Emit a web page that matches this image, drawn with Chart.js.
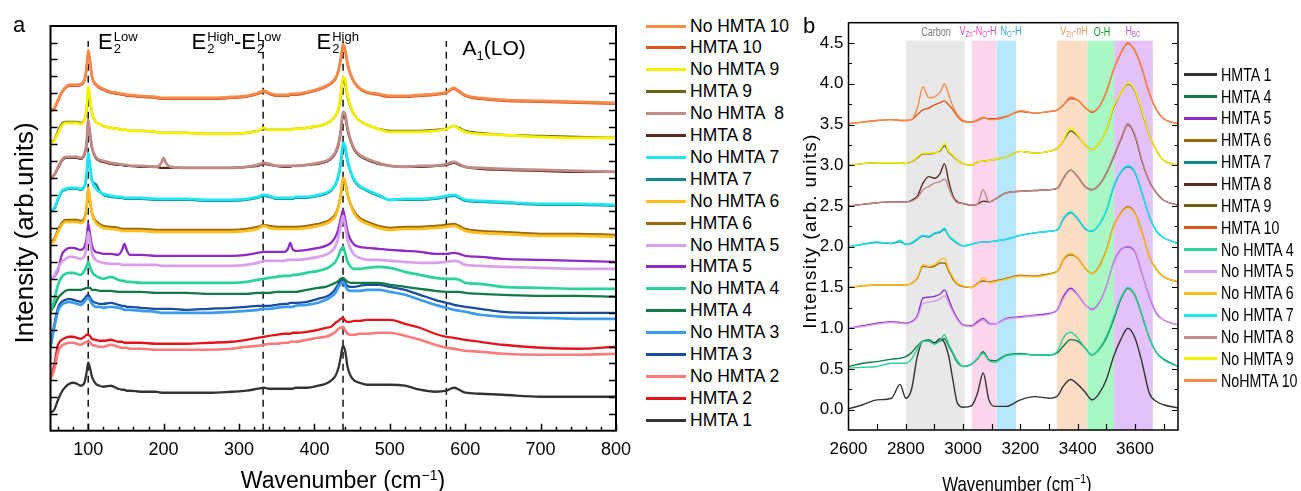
<!DOCTYPE html>
<html>
<head>
<meta charset="utf-8">
<script src="https://cdn.jsdelivr.net/npm/chart.js@4.4.0/dist/chart.umd.min.js"></script>
<style>
  body { margin: 0; width: 1301px; height: 491px; background: #fff; position: relative; overflow: hidden;
         font-family: 'Liberation Sans', Arial, sans-serif; color: #000; }
  #wrapA { position: absolute; left: 0; top: 0; width: 640px; height: 491px; }
  #wrapB { position: absolute; left: 790px; top: 0; width: 400px; height: 491px; }
  .txt { position: absolute; white-space: nowrap; line-height: 1; }
  .ml { position: absolute; font-size: 22px; line-height: 22px; white-space: nowrap; }
  .st { display: inline-block; vertical-align: top; font-size: 13px; line-height: 12px; margin-left: 1px; }
  .st span { display: block; }
  .leg { position: absolute; white-space: pre; }
  .leg.narrow { transform: scaleX(0.77); transform-origin: left center; }
  .legline { position: absolute; height: 3px; }
  .band { position: absolute; white-space: nowrap; font-size: 12.5px; line-height: 1; transform: translate(-50%, -50%) scaleX(0.72); }
  .band sub { font-size: 8.5px; vertical-align: -2px; }
</style>
</head>
<body>
<div id="wrapA"><canvas id="chartA" width="640" height="491"></canvas></div>
<div id="wrapB"><canvas id="chartB" width="400" height="491"></canvas></div>
<div id="legendA"></div>
<div id="legendB"></div>

<div class="txt" style="left:13px;top:14px;font-size:22px;">a</div>
<div class="txt" style="left:803px;top:15px;font-size:22px;">b</div>

<div class="txt" style="left:24px;top:233px;font-size:26px;transform:translate(-50%,-50%) rotate(-90deg);">Intensity (arb.units)</div>
<div class="txt" style="left:343px;top:480px;font-size:23px;transform:translate(-50%,-50%);">Wavenumber (cm<sup style="font-size:14px;">&minus;1</sup>)</div>

<div class="txt" style="left:809px;top:231px;font-size:19px;letter-spacing:1.3px;transform:translate(-50%,-50%) rotate(-90deg);">Intensity (arb. units)</div>
<div class="txt" style="left:1017px;top:483px;font-size:21px;transform:translate(-50%,-50%) scaleX(0.8);">Wavenumber (cm<sup style="font-size:13px;">&minus;1</sup>)</div>

<div class="ml" style="left:98px;top:30.5px;">E<span class="st"><span>Low</span><span>2</span></span></div>
<div class="ml" style="left:191.5px;top:30.5px;">E<span class="st"><span>High</span><span>2</span></span>-E<span class="st"><span>Low</span><span>2</span></span></div>
<div class="ml" style="left:316.5px;top:30.5px;">E<span class="st"><span>High</span><span>2</span></span></div>
<div class="ml" style="left:462.5px;top:36.5px;font-size:21px;">A<sub style="font-size:13px;">1</sub>(LO)</div>

<div class="band" style="left:935.5px;top:32px;color:#7a7a7a;">Carbon</div>
<div class="band" style="left:978px;top:32px;color:#e24ac4;">V<sub>Zn</sub>-N<sub>O</sub>-H</div>
<div class="band" style="left:1011px;top:32px;color:#2aa6e6;">N<sub>O</sub>-H</div>
<div class="band" style="left:1074px;top:32px;color:#f09a62;">V<sub>Zn</sub>-<i>n</i>H</div>
<div class="band" style="left:1102px;top:32px;color:#12a02a;">O-H</div>
<div class="band" style="left:1133px;top:32px;color:#b35ae4;">H<sub>BC</sub></div>

<script>
// ---------- panel a : low wavenumber Raman ----------
const xA = [50,55,60,65,70, 75,80,85,90,95, 98,100,102,105,110, 115,120,130,140,145,
  148,151,155,170,190, 197,200,203,210,230, 260,290,310,325,333, 340,350,360,365,368,
  371,375,390,405,415, 422,428,432,435,438, 441,444,448,453,460, 470,485,500,520,540,
  560,575,585,592,600, 620,650,700,750,800];

const aNoHmta10 = [321,323,331,339,344, 346,346,346,347,351, 365,381,373,355,347, 344,342,339,338,337,
  337,336,336,335,334, 333,333,333,333,333, 333,334,335,338,340, 338,336,336,336,337,
  337,337,339,342,345, 348,353,361,373,387, 381,368,357,349,343, 339,337,335,335,336,
  337,339,343,340,336, 333,331,330,329,328];
const aHmta10 = [320,322,330,338,343, 345,345,345,346,350, 363,378,371,354,346, 343,341,338,337,336,
  336,335,335,334,333, 332,332,332,332,332, 332,333,334,337,339, 337,335,335,335,336,
  336,336,338,341,344, 347,352,360,371,384, 379,366,356,348,342, 338,336,334,334,335,
  336,338,342,339,335, 332,330,329,328,327];
const aNoHmta9 = [288,290,298,305,308, 308,308,308,307,311, 323,344,336,319,309, 307,305,303,302,301,
  301,301,300,300,299, 298,298,298,298,298, 297,297,298,300,303, 301,301,301,301,301,
  302,302,303,305,307, 310,315,323,336,354, 350,336,325,316,310, 306,302,299,299,299,
  300,302,305,302,299, 297,296,294,293,293];
const aHmta9 = [289,291,300,307,309, 309,309,309,308,311, 322,341,334,318,309, 307,305,303,302,301,
  301,301,300,300,299, 298,298,298,298,298, 297,297,298,300,302, 301,301,301,301,301,
  302,302,303,305,307, 310,315,322,334,351, 347,334,324,316,310, 306,302,300,300,300,
  301,302,305,303,300, 298,296,295,294,293];
const aNoHmta8 = [253,256,264,271,274, 274,274,274,273,277, 289,311,301,284,274, 271,270,268,267,266,
  266,266,265,265,264, 268,273,268,264,263, 263,263,264,266,268, 267,265,265,265,265,
  265,265,266,268,270, 273,279,288,301,319, 316,303,291,282,276, 272,268,265,264,265,
  265,267,269,267,264, 263,262,261,260,259];
const aHmta8 = [253,256,263,270,273, 273,273,273,272,276, 287,308,299,283,273, 270,269,267,266,266,
  265,265,265,264,264, 263,263,263,263,263, 263,263,264,265,267, 266,265,264,264,264,
  265,265,266,267,269, 272,278,286,299,316, 313,301,290,281,275, 271,267,265,264,264,
  265,266,268,266,264, 262,261,260,259,259];
const aNoHmta7 = [220,223,232,240,242, 243,243,243,242,245, 258,278,268,251,242, 239,237,235,234,234,
  233,233,233,233,232, 232,232,232,232,232, 231,231,232,234,236, 235,233,233,233,233,
  233,234,234,236,238, 241,247,256,269,288, 284,271,260,251,245, 241,236,231,232,232,
  233,235,236,234,231, 230,229,227,227,226];
const aHmta7 = [220,222,231,239,241, 242,242,242,241,244, 256,275,266,250,247, 240,236,234,233,233,
  232,232,232,232,231, 231,231,231,231,231, 230,230,231,233,235, 234,232,232,232,232,
  232,233,233,235,237, 240,246,255,267,285, 281,269,259,250,244, 240,235,231,231,231,
  232,234,235,233,230, 229,228,226,226,225];
const aNoHmta6 = [187,190,199,206,209, 209,209,209,208,211, 224,243,233,217,208, 205,203,202,201,200,
  200,200,200,200,199, 199,199,199,199,199, 199,199,200,202,205, 203,202,202,202,202,
  202,202,203,205,207, 210,215,224,236,253, 249,237,226,217,211, 207,203,201,202,202,
  203,204,205,203,200, 198,197,195,195,194];
const aHmta6 = [189,192,201,208,211, 211,211,211,210,213, 225,242,233,218,210, 207,205,204,203,202,
  202,202,202,202,201, 201,201,201,201,201, 201,201,202,204,206, 205,204,204,204,204,
  204,204,205,207,209, 212,217,225,236,251, 247,236,227,219,213, 209,205,203,204,204,
  205,206,207,205,202, 200,199,197,197,196];
const aNoHmta5 = [152,155,163,169,172, 174,174,173,172,175, 185,199,191,177,171, 169,168,167,167,166,
  166,166,166,166,166, 165,165,165,165,165, 165,165,166,168,170, 170,170,170,171,171,
  171,171,172,174,176, 179,185,194,205,215, 204,191,182,176,173, 171,171,170,169,168,
  168,169,170,169,166, 165,164,163,162,162];
const aHmta5 = [152,154,161,176,181, 183,183,182,181,184, 193,207,199,185,179, 178,177,177,176,181,
  187,181,176,176,175, 175,175,175,175,175, 175,175,176,178,179, 179,179,179,182,188,
  182,180,181,183,185, 188,194,202,212,221, 211,199,191,186,184, 183,182,181,180,179,
  177,177,178,177,175, 174,172,171,170,169];
const aNoHmta4 = [119,131,146,154,157, 158,158,157,156,160, 165,169,165,159,155, 153,152,154,151,150,
  150,149,149,148,148, 148,148,148,148,148, 148,148,149,151,152, 153,154,155,155,155,
  156,156,158,160,162, 165,169,175,181,184, 177,169,164,162,162, 163,164,163,159,156,
  153,152,152,151,148, 147,144,143,142,142];
const aHmta4 = [119,125,133,137,140, 141,141,141,141,142, 143,143,143,141,141, 140,140,140,139,139,
  139,139,139,139,138, 138,138,138,138,138, 137,137,137,138,138, 138,139,139,139,139,
  139,139,141,143,144, 146,148,150,152,153, 151,149,148,148,148, 148,148,146,144,142,
  140,139,139,139,138, 137,136,135,135,134];
const aNoHmta3 = [84,103,120,126,128, 129,128,127,126,129, 132,133,131,127,124, 124,123,124,123,122,
  121,121,121,120,119, 118,118,118,118,118, 118,119,120,121,122, 122,123,124,124,124,
  124,125,126,128,131, 134,138,144,147,149, 145,141,140,140,140, 141,141,139,136,131,
  126,123,121,120,119, 116,114,113,112,112];
const aHmta3 = [84,106,123,129,131, 132,131,130,129,132, 135,136,134,130,128, 127,127,128,126,125,
  125,124,124,123,122, 122,122,122,122,121, 122,123,124,125,125, 125,126,127,127,128,
  128,128,129,132,134, 137,142,147,150,152, 148,145,144,144,145, 146,146,144,141,136,
  131,128,126,125,124, 122,119,118,118,118];
const aNoHmta2 = [52,61,79,85,87, 88,88,87,86,88, 89,89,89,86,85, 84,84,86,84,83,
  83,83,82,82,81, 81,81,81,81,81, 81,82,84,85,86, 87,87,88,88,89,
  89,89,91,93,94, 96,99,102,103,104, 100,97,96,96,97, 97,98,98,95,91,
  86,83,82,81,80, 79,77,76,76,77];
const aHmta2 = [52,66,86,91,93, 94,94,93,92,94, 96,96,95,92,91, 90,90,91,89,89,
  88,88,88,88,87, 87,87,87,87,87, 88,89,91,93,94, 95,96,97,97,97,
  98,98,99,101,103, 104,108,110,112,113, 110,109,109,110,110, 111,111,111,107,103,
  97,94,93,92,91, 89,86,83,82,84];
const aHmta1 = [18,21,31,39,44, 47,48,47,45,48, 59,68,64,54,47, 45,44,45,42,41,
  41,40,40,39,39, 38,38,38,38,38, 38,39,40,42,43, 42,42,42,42,42,
  42,43,43,45,47, 50,55,63,74,85, 79,64,55,50,48, 46,46,46,45,41,
  39,40,43,41,38, 37,36,34,34,34];

const modeLinesA = [100, 332, 438, 575];
const modeLineTopA = 390;
const xLabelsA = [100, 200, 300, 400, 500, 600, 700, 800];
const xTickMarksA = [60,80,100,120,140,160,180,200,220,240,260,280,300,320,340,360,380,400,
  420,440,460,480,500,520,540,560,580,600,620,640,660,680,700,720,740,760,780];
const yTickMarksA = [17,34,51,68,84,101,118,135,152,169,186,203,220,236,253,270,287,304,321,338,355,372,388];

// ---------- panel b : high wavenumber ----------
const xB = [2600,2650,2700,2750,2780,2800,2820,2840,2860,2880, 2900,2920,2935,2950,2965,2980,3000,3030,3050,3070,
  3090,3110,3150,3200,3250,3300,3330,3350,3375,3400, 3425,3450,3475,3500,3525,3550,3575,3600,3625,3650,
  3675,3700,3750];

const bHmta1 = [0.01,0.06,0.12,0.14,0.31,0.14,0.25,0.65,0.84,0.84, 0.82,0.87,0.82,0.65,0.35,0.08,0.03,0.05,0.20,0.45,
  0.12,0.04,0.04,0.12,0.16,0.14,0.17,0.29,0.37,0.31, 0.22,0.12,0.20,0.37,0.65,0.86,1.00,0.88,0.57,0.20, 0.10,0.06,0.02];
const bHmta4 = [0.53,0.57,0.59,0.62,0.63,0.65,0.70,0.78,0.84,0.86, 0.82,0.84,0.87,0.78,0.68,0.58,0.53,0.56,0.62,0.71,
  0.61,0.60,0.67,0.69,0.67,0.67,0.70,0.78,0.86,0.84, 0.76,0.67,0.74,0.88,1.10,1.35,1.49,1.40,1.15,0.88, 0.70,0.62,0.53];
const bNoHmta4 = [0.51,0.52,0.53,0.57,0.57,0.57,0.62,0.74,0.84,0.84, 0.80,0.85,0.92,0.80,0.70,0.60,0.53,0.56,0.63,0.69,
  0.60,0.58,0.66,0.68,0.67,0.67,0.72,0.88,0.95,0.88, 0.76,0.67,0.75,0.90,1.13,1.37,1.50,1.41,1.16,0.88, 0.70,0.61,0.53];
const bHmta5 = [1.00,1.03,1.06,1.08,1.07,1.06,1.08,1.15,1.37,1.38, 1.39,1.42,1.47,1.35,1.22,1.12,1.04,1.03,1.08,1.12,
  1.06,1.05,1.12,1.14,1.16,1.18,1.23,1.39,1.49,1.41, 1.29,1.23,1.31,1.51,1.80,1.96,2.00,1.94,1.67,1.39, 1.18,1.10,1.04];
const bNoHmta5 = [1.00,1.02,1.05,1.07,1.06,1.05,1.07,1.13,1.30,1.32, 1.33,1.36,1.40,1.30,1.19,1.10,1.03,1.02,1.06,1.10,
  1.05,1.05,1.11,1.13,1.15,1.17,1.22,1.36,1.47,1.40, 1.29,1.22,1.30,1.50,1.79,1.95,2.01,1.95,1.68,1.40, 1.19,1.10,1.04];
const bHmta6 = [1.50,1.52,1.53,1.53,1.53,1.53,1.55,1.61,1.76,1.75, 1.76,1.80,1.80,1.70,1.60,1.54,1.51,1.50,1.55,1.58,
  1.57,1.58,1.61,1.65,1.64,1.67,1.70,1.84,1.90,1.86, 1.74,1.67,1.76,1.96,2.25,2.41,2.49,2.41,2.17,1.88, 1.72,1.63,1.57];
const bNoHmta6 = [1.50,1.52,1.53,1.53,1.53,1.53,1.55,1.62,1.78,1.76, 1.78,1.84,1.86,1.72,1.62,1.55,1.52,1.50,1.54,1.62,
  1.56,1.57,1.60,1.64,1.63,1.66,1.70,1.85,1.92,1.86, 1.74,1.67,1.75,1.95,2.24,2.40,2.48,2.40,2.16,1.88, 1.72,1.63,1.57];
const bHmta7 = [2.00,2.03,2.05,2.04,2.06,2.03,2.04,2.09,2.13,2.12, 2.16,2.18,2.21,2.13,2.08,2.04,2.01,2.03,2.05,2.06,
  2.06,2.07,2.09,2.14,2.17,2.19,2.21,2.34,2.42,2.34, 2.22,2.19,2.27,2.44,2.73,2.91,2.98,2.91,2.65,2.37, 2.19,2.11,2.04];
const bNoHmta7 = [2.00,2.03,2.06,2.04,2.08,2.03,2.05,2.10,2.14,2.13, 2.17,2.19,2.23,2.14,2.09,2.05,2.01,2.03,2.05,2.06,
  2.06,2.07,2.09,2.14,2.17,2.19,2.21,2.35,2.43,2.35, 2.23,2.19,2.27,2.45,2.74,2.92,3.00,2.92,2.66,2.37, 2.19,2.11,2.04];
const bHmta8 = [2.50,2.52,2.54,2.55,2.55,2.55,2.57,2.62,2.78,2.86, 2.84,2.90,3.02,2.80,2.62,2.55,2.53,2.51,2.52,2.56,
  2.55,2.58,2.66,2.68,2.69,2.70,2.72,2.84,2.94,2.86, 2.74,2.70,2.76,2.90,3.10,3.31,3.50,3.36,3.04,2.80, 2.66,2.57,2.51];
const bNoHmta8 = [2.50,2.52,2.54,2.55,2.55,2.55,2.56,2.60,2.70,2.74, 2.78,2.80,2.83,2.72,2.60,2.54,2.53,2.51,2.52,2.70,
  2.55,2.58,2.66,2.68,2.69,2.70,2.72,2.84,2.94,2.86, 2.74,2.70,2.76,2.90,3.11,3.32,3.51,3.37,3.05,2.80, 2.66,2.57,2.51];
const bHmta9 = [3.00,3.02,3.03,3.03,3.03,3.02,3.04,3.09,3.14,3.14, 3.15,3.18,3.24,3.16,3.11,3.06,3.02,3.00,3.04,3.05,
  3.06,3.07,3.10,3.17,3.15,3.17,3.21,3.30,3.42,3.36, 3.25,3.19,3.27,3.43,3.71,3.88,4.00,3.91,3.65,3.37, 3.18,3.06,3.00];
const bNoHmta9 = [3.00,3.02,3.03,3.03,3.03,3.02,3.04,3.10,3.15,3.15, 3.15,3.19,3.27,3.17,3.12,3.06,3.02,3.00,3.04,3.05,
  3.06,3.07,3.10,3.17,3.15,3.17,3.21,3.31,3.46,3.37, 3.25,3.19,3.27,3.43,3.72,3.88,4.01,3.92,3.66,3.37, 3.18,3.06,3.00];
const bHmta10 = [3.51,3.53,3.55,3.56,3.55,3.55,3.56,3.62,3.68,3.70, 3.74,3.77,3.79,3.74,3.68,3.60,3.54,3.53,3.55,3.58,
  3.57,3.57,3.60,3.66,3.64,3.66,3.68,3.74,3.82,3.80, 3.71,3.65,3.72,3.90,4.17,4.37,4.50,4.40,4.18,3.88, 3.68,3.57,3.51];
const bNoHmta10 = [3.51,3.53,3.55,3.56,3.55,3.55,3.56,3.70,3.96,3.83, 3.84,3.90,4.00,3.86,3.72,3.62,3.55,3.53,3.56,3.59,
  3.56,3.56,3.59,3.67,3.64,3.66,3.68,3.74,3.84,3.80, 3.71,3.66,3.72,3.90,4.17,4.37,4.49,4.41,4.18,3.88, 3.68,3.57,3.51];

const bandStart = [2800, 3030, 3117, 3327, 3434, 3527];
const bandEnd = [3005, 3117, 3185, 3434, 3527, 3662];
const bandColors = ['#e8e8e8', '#fdd5ec', '#b8e6fa', '#fcddc5', '#a9f7c4', '#e3c2fa'];
const bandTop = 4.53;
const xLabelsB = [2600, 2800, 3000, 3200, 3400, 3600];
const xTickMarksB = [2700, 2800, 2900, 3000, 3100, 3200, 3300, 3400, 3500, 3600, 3700];
const yLabelsB = [0, 0.5, 1, 1.5, 2, 2.5, 3, 3.5, 4, 4.5];
const yMinorB = [0.25, 0.75, 1.25, 1.75, 2.25, 2.75, 3.25, 3.75, 4.25];

// colours per sample
const colors = {
  'HMTA 1': '#333333',
  'HMTA 2': '#e3141c', 'No HMTA 2': '#ff7b7b',
  'HMTA 3': '#1a4d9e', 'No HMTA 3': '#3a9bef',
  'HMTA 4': '#137a45', 'No HMTA 4': '#2bd39a',
  'HMTA 5': '#8e2bc6', 'No HMTA 5': '#d8a0ea',
  'HMTA 6': '#98690f', 'No HMTA 6': '#ffbe1e',
  'HMTA 7': '#128a8c', 'No HMTA 7': '#1fe6f0',
  'HMTA 8': '#5a2b24', 'No HMTA 8': '#c08a85',
  'HMTA 9': '#6b6416', 'No HMTA 9': '#f5f200',
  'HMTA 10': '#d9561f', 'No HMTA 10': '#f7894a'
};

const seriesA = [
  ['No HMTA 10', aNoHmta10], ['HMTA 10', aHmta10], ['No HMTA 9', aNoHmta9], ['HMTA 9', aHmta9],
  ['No HMTA 8', aNoHmta8], ['HMTA 8', aHmta8], ['No HMTA 7', aNoHmta7], ['HMTA 7', aHmta7],
  ['No HMTA 6', aNoHmta6], ['HMTA 6', aHmta6], ['No HMTA 5', aNoHmta5], ['HMTA 5', aHmta5],
  ['No HMTA 4', aNoHmta4], ['HMTA 4', aHmta4], ['No HMTA 3', aNoHmta3], ['HMTA 3', aHmta3],
  ['No HMTA 2', aNoHmta2], ['HMTA 2', aHmta2], ['HMTA 1', aHmta1]
];
const legendTextA = ['No HMTA 10', 'HMTA 10', 'No HMTA 9', 'HMTA 9', 'No HMTA  8', 'HMTA 8', 'No HMTA 7', 'HMTA 7',
  'No HMTA 6', 'HMTA 6', 'No HMTA 5', 'HMTA 5', 'No HMTA 4', 'HMTA 4', 'No HMTA 3', 'HMTA 3', 'No HMTA 2', 'HMTA 2', 'HMTA 1'];

const seriesB = [
  ['HMTA 1', bHmta1], ['HMTA 4', bHmta4], ['HMTA 5', bHmta5], ['HMTA 6', bHmta6], ['HMTA 7', bHmta7],
  ['HMTA 8', bHmta8], ['HMTA 9', bHmta9], ['HMTA 10', bHmta10], ['No HMTA 4', bNoHmta4], ['No HMTA 5', bNoHmta5],
  ['No HMTA 6', bNoHmta6], ['No HMTA 7', bNoHmta7], ['No HMTA 8', bNoHmta8], ['No HMTA 9', bNoHmta9], ['No HMTA 10', bNoHmta10]
];
const legendTextB = ['HMTA 1', 'HMTA 4', 'HMTA 5', 'HMTA 6', 'HMTA 7', 'HMTA 8', 'HMTA 9', 'HMTA 10',
  'No HMTA 4', 'No HMTA 5', 'No HMTA 6', 'No HMTA 7', 'No HMTA 8', 'No HMTA 9', 'NoHMTA 10'];

// frame + inward tick marks
const frameTicks = {
  id: 'frameTicks',
  afterDatasetsDraw(chart, args, o) {
    const { ctx, chartArea: a, scales: { x, y } } = chart;
    ctx.save();
    ctx.strokeStyle = '#000';
    ctx.lineWidth = o.tickWidth;
    ctx.beginPath();
    o.xMajor.forEach(v => {
      const px = Math.round(x.getPixelForValue(v)) + 0.5;
      ctx.moveTo(px, a.bottom); ctx.lineTo(px, a.bottom - o.majorLen);
    });
    o.xMinor.forEach(v => {
      const px = Math.round(x.getPixelForValue(v)) + 0.5;
      ctx.moveTo(px, a.bottom); ctx.lineTo(px, a.bottom - o.minorLen);
    });
    o.yMajor.forEach(v => {
      const py = Math.round(y.getPixelForValue(v)) + 0.5;
      ctx.moveTo(a.left, py); ctx.lineTo(a.left + o.majorLen, py);
      ctx.moveTo(a.right, py); ctx.lineTo(a.right - o.majorLen, py);
    });
    o.yMinor.forEach(v => {
      const py = Math.round(y.getPixelForValue(v)) + 0.5;
      ctx.moveTo(a.left, py); ctx.lineTo(a.left + o.minorLen, py);
      ctx.moveTo(a.right, py); ctx.lineTo(a.right - o.minorLen, py);
    });
    ctx.stroke();
    ctx.lineWidth = o.frameWidth;
    ctx.strokeRect(a.left, a.top, a.right - a.left, a.bottom - a.top);
    ctx.restore();
  }
};

// shaded assignment bands for panel b
const bands = {
  id: 'bands',
  beforeDatasetsDraw(chart) {
    const { ctx, chartArea: a, scales: { x, y } } = chart;
    ctx.save();
    bandStart.forEach((s, i) => {
      const x0 = x.getPixelForValue(s);
      const x1 = x.getPixelForValue(bandEnd[i]);
      const top = y.getPixelForValue(bandTop);
      ctx.fillStyle = bandColors[i];
      ctx.fillRect(x0, top, x1 - x0, a.bottom - top);
    });
    ctx.restore();
  }
};

const fontA = "'Liberation Sans', Arial, sans-serif";

// ---- chart a ----
const datasetsA = seriesA.map(([name, vals]) => {
  const light = name.startsWith('No');
  return {
    label: name,
    data: xA.map((x, i) => ({ x: x, y: vals[i] })),
    borderColor: colors[name],
    borderWidth: light ? 2.7 : 2.3,
    order: light ? 1 : 2,
    cubicInterpolationMode: 'monotone',
    pointRadius: 0
  };
});
modeLinesA.forEach(m => {
  datasetsA.push({
    label: 'mode ' + m,
    data: [{ x: m, y: 0 }, { x: m, y: modeLineTopA }],
    borderColor: '#000',
    borderWidth: 1.4,
    borderDash: [7, 5],
    order: 3,
    pointRadius: 0
  });
});

new Chart(document.getElementById('chartA'), {
  type: 'line',
  data: { datasets: datasetsA },
  options: {
    responsive: false,
    animation: false,
    layout: { padding: { left: 0, top: 26, right: 12, bottom: 0 } },
    plugins: { legend: { display: false }, tooltip: { enabled: false },
      frameTicks: { xMajor: xLabelsA, xMinor: xTickMarksA.filter(v => !xLabelsA.includes(v)),
        yMajor: yTickMarksA, yMinor: [], majorLen: 7, minorLen: 4, tickWidth: 1.5, frameWidth: 2 } },
    scales: {
      x: {
        type: 'linear', min: 50, max: 800,
        afterBuildTicks: s => { s.ticks = xLabelsA.map(v => ({ value: v })); },
        afterFit: s => { s.height = 60.3; },
        grid: { display: false, drawTicks: false },
        border: { display: false },
        ticks: { color: '#000', padding: 9, font: { family: fontA, size: 18 }, maxRotation: 0, autoSkip: false,
          callback: v => String(v) }
      },
      y: {
        type: 'linear', min: 0, max: 405,
        afterFit: s => { s.width = 50.5; },
        grid: { display: false, drawTicks: false },
        border: { display: false },
        ticks: { display: false }
      }
    }
  },
  plugins: [frameTicks]
});

// ---- chart b ----
const datasetsB = seriesB.map(([name, vals]) => ({
  label: name,
  data: xB.map((x, i) => ({ x: x, y: vals[i] })),
  borderColor: colors[name],
  borderWidth: 1.4,
  order: name.startsWith('No') ? 1 : 2,
  cubicInterpolationMode: 'monotone',
  pointRadius: 0
}));

new Chart(document.getElementById('chartB'), {
  type: 'line',
  data: { datasets: datasetsB },
  options: {
    responsive: false,
    animation: false,
    layout: { padding: { left: 0, top: 22.7, right: 12, bottom: 0 } },
    plugins: { legend: { display: false }, tooltip: { enabled: false },
      frameTicks: { xMajor: xTickMarksB, xMinor: [], yMajor: yLabelsB, yMinor: yMinorB,
        majorLen: 6, minorLen: 3.5, tickWidth: 1.2, frameWidth: 1.5 } },
    scales: {
      x: {
        type: 'linear', min: 2600, max: 3750,
        afterBuildTicks: s => { s.ticks = xLabelsB.map(v => ({ value: v })); },
        afterFit: s => { s.height = 61; },
        grid: { display: false, drawTicks: false },
        border: { display: false },
        ticks: { color: '#000', padding: 9, font: { family: fontA, size: 17 }, maxRotation: 0, autoSkip: false,
          callback: v => String(v) }
      },
      y: {
        type: 'linear', min: -0.25, max: 4.75,
        afterBuildTicks: s => { s.ticks = yLabelsB.map(v => ({ value: v })); },
        afterFit: s => { s.width = 58.5; },
        grid: { display: false, drawTicks: false },
        border: { display: false },
        ticks: { color: '#000', padding: 5, font: { family: fontA, size: 17 }, callback: v => v.toFixed(1) }
      }
    }
  },
  plugins: [bands, frameTicks]
});

// ---- html legends ----
function buildLegend(el, names, labels, cfg) {
  names.forEach((name, k) => {
    const cy = cfg.top + cfg.step * k;
    const line = document.createElement('div');
    line.className = 'legline';
    line.style.left = cfg.lineLeft + 'px';
    line.style.width = cfg.lineWidth + 'px';
    line.style.top = (cy - 1.5) + 'px';
    line.style.background = colors[name];
    el.appendChild(line);
    const t = document.createElement('div');
    t.className = 'leg' + (cfg.narrow ? ' narrow' : '');
    t.style.left = cfg.textLeft + 'px';
    t.style.top = (cy - cfg.fontSize * 0.6) + 'px';
    t.style.fontSize = cfg.fontSize + 'px';
    t.style.lineHeight = (cfg.fontSize * 1.2) + 'px';
    t.textContent = labels[k];
    el.appendChild(t);
  });
}
buildLegend(document.getElementById('legendA'), seriesA.map(s => s[0]), legendTextA,
  { top: 26, step: 21.9, lineLeft: 646, lineWidth: 40, textLeft: 690, fontSize: 17.5, narrow: false });
buildLegend(document.getElementById('legendB'), seriesB.map(s => s[0]), legendTextB,
  { top: 74.8, step: 21.86, lineLeft: 1184, lineWidth: 33, textLeft: 1220.5, fontSize: 18.5, narrow: true });
</script>
</body>
</html>
